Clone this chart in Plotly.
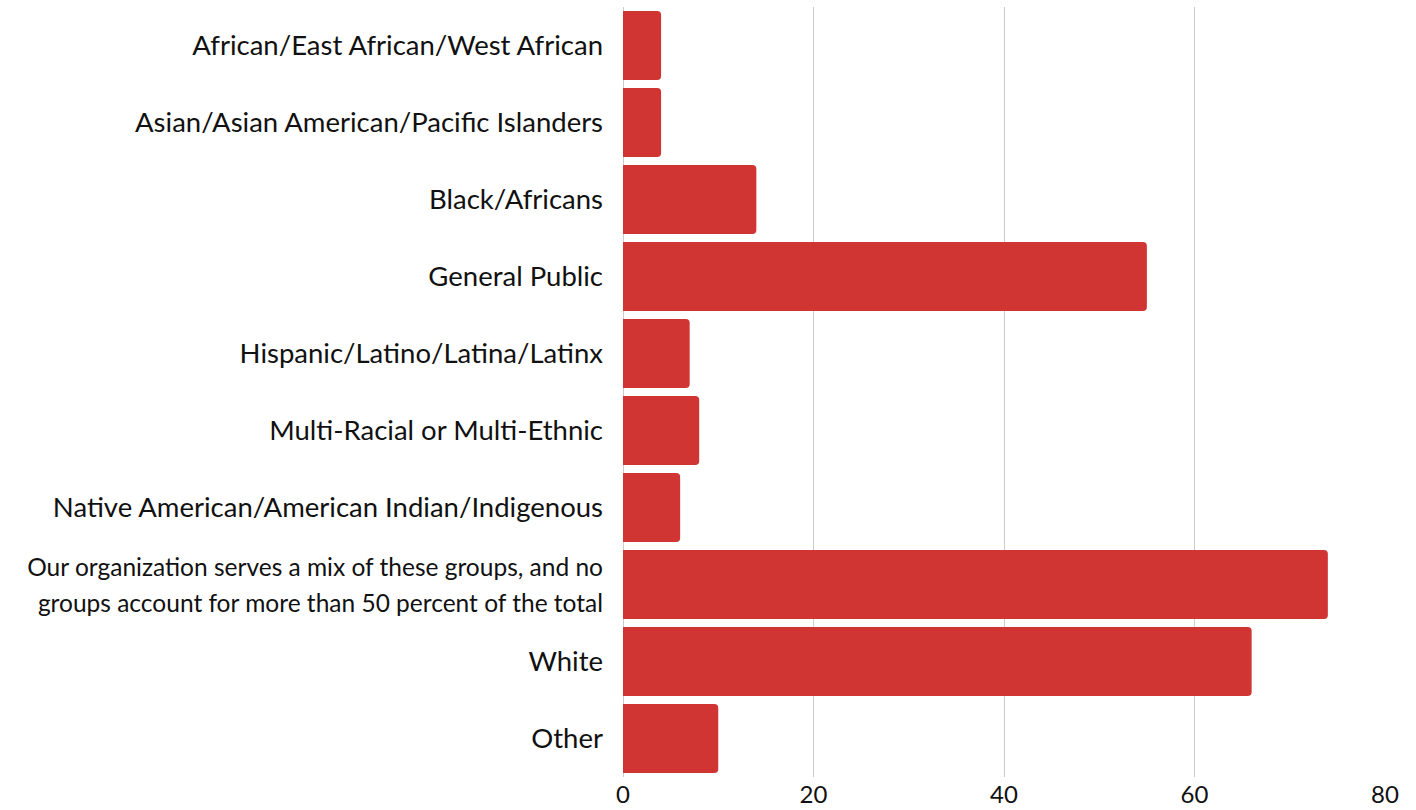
import plotly.graph_objects as go

# Populations served, one bar per group
categories = [
    "African/East African/West African",
    "Asian/Asian American/Pacific Islanders",
    "Black/Africans",
    "General Public",
    "Hispanic/Latino/Latina/Latinx",
    "Multi-Racial or Multi-Ethnic",
    "Native American/American Indian/Indigenous",
    "Our organization serves a mix of these groups, and no groups account for more than 50 percent of the total",
    "White",
    "Other",
]
counts = [4, 4, 14, 55, 7, 8, 6, 74, 66, 10]

x_ticks = [0, 20, 40, 60, 80]

# Long label gets wrapped over two lines in a smaller size
tick_text = []
for c in categories:
    if c.startswith("Our organization"):
        tick_text.append(
            '<span style="font-size:24.5px">Our organization serves a mix of these groups, and no'
            '<br>groups account for more than 50 percent of the total</span>'
        )
    else:
        tick_text.append(c)

fig = go.Figure(
    go.Bar(
        x=counts,
        y=categories,
        orientation="h",
        marker=dict(color="#D03533", line=dict(width=0)),
        hoverinfo="x+y",
    )
)

fig.update_layout(
    width=1416,
    height=810,
    margin=dict(l=623, r=31, t=7, b=33),
    paper_bgcolor="white",
    plot_bgcolor="white",
    bargap=0.104,
    barcornerradius=4,
    showlegend=False,
    font=dict(family="Lato, 'Noto Sans', sans-serif", color="#111111"),
)

fig.update_xaxes(
    range=[0, 80],
    tickvals=x_ticks,
    ticktext=[str(v) for v in x_ticks],
    showgrid=True,
    gridcolor="#cccccc",
    gridwidth=1,
    zeroline=True,
    zerolinecolor="#cccccc",
    zerolinewidth=1,
    showline=False,
    ticks="",
    ticklabelstandoff=1,
    automargin=False,
    tickfont=dict(size=24),
)

fig.update_yaxes(
    autorange="reversed",
    tickmode="array",
    tickvals=categories,
    ticktext=tick_text,
    showgrid=False,
    ticks="",
    ticklabelstandoff=19,
    automargin=False,
    tickfont=dict(size=27.5),
)

fig.write_html("out.html")
